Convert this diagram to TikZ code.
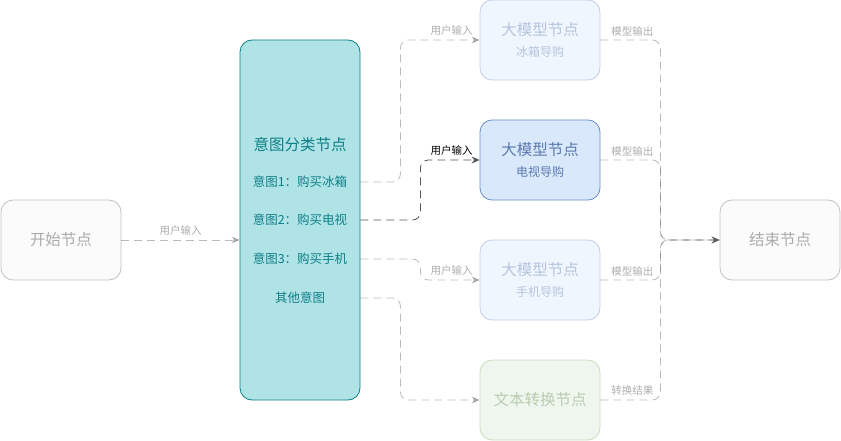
\documentclass[tikz,border=0pt]{standalone}
\usepackage{fontspec}
\setmainfont{Noto Sans CJK SC}
\usetikzlibrary{arrows.meta}
\definecolor{tealfill}{HTML}{B0E3E6}
\definecolor{tealline}{HTML}{0E8088}
\definecolor{bluefill}{HTML}{DAE8FC}
\definecolor{blueline}{HTML}{6C8EBF}
\definecolor{bluetext}{HTML}{5A7AAE}
\definecolor{greenfill}{HTML}{D5E8D4}
\definecolor{greenline}{HTML}{82B366}
\definecolor{greyfill}{HTML}{F5F5F5}
\definecolor{greyline}{HTML}{666666}
\definecolor{edgecol}{HTML}{555555}
\begin{document}
\begin{tikzpicture}[x=1pt,y=-1pt,>={Stealth[length=8pt,width=7pt]},
    box/.style={draw,rounded corners=12pt,line width=0.8pt,minimum width=120pt,
        minimum height=80pt,align=center,inner sep=0pt},
    big/.style={font=\fontsize{15.5}{19}\selectfont},
    small/.style={font=\fontsize{12.5}{15}\selectfont},
    grey/.style={box,big,draw=greyline,fill=greyfill,text=black!80,opacity=0.4},
    llm/.style={box,big,draw=blueline,fill=bluefill,text=bluetext},
    faded/.style={opacity=0.4},
    link/.style={->,draw=edgecol,line width=0.8pt,dash pattern=on 8pt off 5pt,
        rounded corners=8pt},
    lbl/.style={font=\fontsize{10.5}{12}\selectfont,text=black!80,inner sep=1pt}]
    \useasboundingbox (0,0) rectangle (841,441);
    % nodes
    \node[grey] (start) at (61,240) {开始节点};
    \node[box,draw=tealline,fill=tealfill,minimum height=360pt] (cls) at (300,220) {};
    \node[big,text=tealline] (clst) at (300,145) {意图分类节点};
    \node[small,text=tealline] (r1) at (300,182) {意图1：购买冰箱};
    \node[small,text=tealline] (r2) at (300,220) {意图2：购买电视};
    \node[small,text=tealline] (r3) at (300,259) {意图3：购买手机};
    \node[small,text=tealline] (r4) at (300,298) {其他意图};
    \node[llm,faded] (fr) at (540,40) {大模型节点\\[2pt]{\fontsize{12}{14}\selectfont 冰箱导购}};
    \node[llm] (tv) at (540,160) {大模型节点\\[2pt]{\fontsize{12}{14}\selectfont 电视导购}};
    \node[llm,faded] (ph) at (540,280) {大模型节点\\[2pt]{\fontsize{12}{14}\selectfont 手机导购}};
    \node[box,big,draw=greenline,fill=greenfill,text=greenline!80!black,faded] (txt) at (540,400) {文本转换节点};
    \node[grey] (end) at (780,240) {结束节点};
    % connectors
    \draw[link,faded] (start.east) -- (start.east -| cls.west) node[lbl,midway,yshift=9pt] {用户输入};
    \draw[link,faded] (r1 -| cls.east) -- ++(40,0) |- (fr.west);
    \draw[link] (r2 -| cls.east) -- ++(60,0) |- (tv.west);
    \draw[link,faded] (r3 -| cls.east) -- ++(60,0) |- (ph.west);
    \draw[link,faded] (r4 -| cls.east) -- ++(40,0) |- (txt.west);
    \foreach \n in {fr,tv,ph,txt}
        \draw[link,faded] (\n.east) -- ++(60,0) |- (end.west);
    % labels
    \node[lbl,faded] (in1) at ([xshift=-28pt,yshift=9pt]fr.west) {用户输入};
    \node[lbl,text=black] (in2) at ([xshift=-28pt,yshift=9pt]tv.west) {用户输入};
    \node[lbl,faded] (in3) at ([xshift=-28pt,yshift=9pt]ph.west) {用户输入};
    \node[lbl,faded] (out1) at ([xshift=32pt,yshift=9pt]fr.east) {模型输出};
    \node[lbl,faded] (out2) at ([xshift=32pt,yshift=9pt]tv.east) {模型输出};
    \node[lbl,faded] (out3) at ([xshift=32pt,yshift=9pt]ph.east) {模型输出};
    \node[lbl,faded] (out4) at ([xshift=32pt,yshift=9pt]txt.east) {转换结果};
\end{tikzpicture}
\end{document}
